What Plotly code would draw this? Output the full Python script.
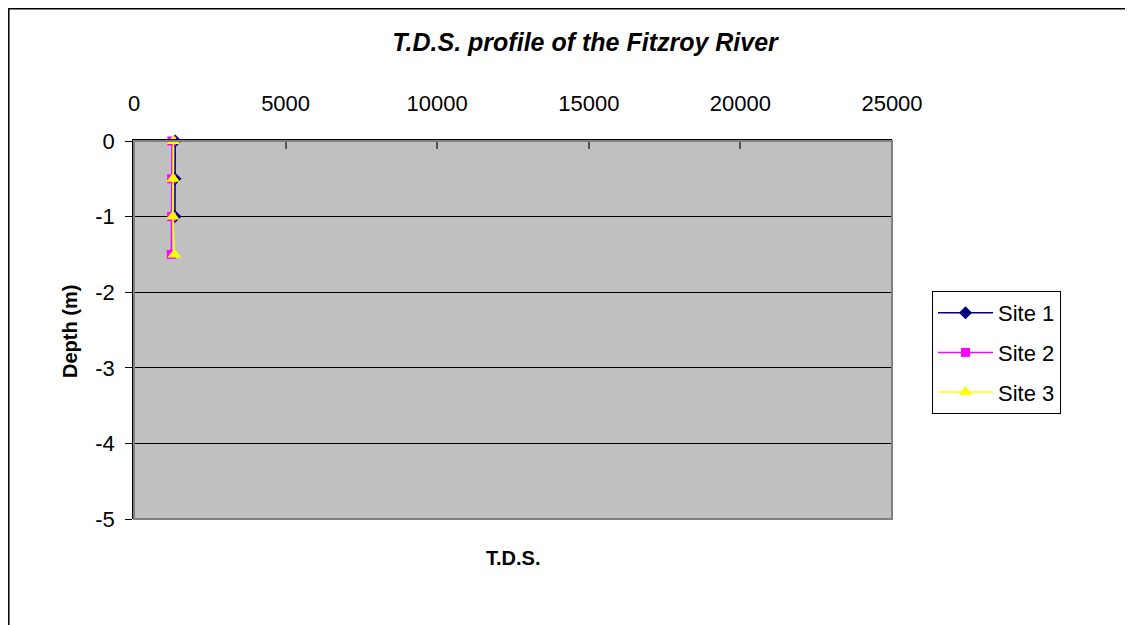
import plotly.graph_objects as go

depth_1 = [0, -0.5, -1]
tds_1 = [1360, 1350, 1350]
depth_2 = [0, -0.5, -1, -1.5]
tds_2 = [1250, 1240, 1240, 1230]
depth_3 = [0, -0.5, -1, -1.5]
tds_3 = [1300, 1290, 1280, 1330]

x_ticks = [0, 5000, 10000, 15000, 20000, 25000]
y_ticks = [0, -1, -2, -3, -4, -5]

OFF = 8  # page body margin
W, H = 1133, 625
# target positions in screenshot pixels
L, R, T, B = 134, 892, 141, 519
pw, ph = R - L, B - T
ml, mt = L - OFF, T - OFF
mr, mb = W - ml - pw, H - mt - ph


def px(x):
    return (x - L) / pw


def py(y):
    return (B - y) / ph


fig = go.Figure()
fig.add_trace(go.Scatter(x=tds_1, y=depth_1, name="Site 1", mode="lines+markers",
                         legendgroup="g1", cliponaxis=False,
                         line=dict(color="#000080", width=1.5),
                         marker=dict(symbol="diamond", size=10, color="#000080")))
fig.add_trace(go.Scatter(x=tds_2, y=depth_2, name="Site 2", mode="lines+markers",
                         legendgroup="g2", cliponaxis=False,
                         line=dict(color="#FF00FF", width=1.5),
                         marker=dict(symbol="square", size=9, color="#FF00FF")))
fig.add_trace(go.Scatter(x=tds_3, y=depth_3, name="Site 3", mode="lines+markers",
                         legendgroup="g3", cliponaxis=False,
                         line=dict(color="#FFFF00", width=1.5),
                         marker=dict(symbol="triangle-up", size=12, color="#FFFF00")))

font = dict(family="Liberation Sans, Arial, sans-serif", color="black")

fig.update_layout(
    width=W, height=H,
    margin=dict(l=ml, r=mr, t=mt, b=mb, pad=0),
    paper_bgcolor="white",
    plot_bgcolor="#C0C0C0",
    font=dict(size=22, **font),
    title=dict(text="<b><i>T.D.S. profile of the Fitzroy River</i></b>",
               x=(585 - OFF) / W, xanchor="center", y=1 - (42 - OFF) / H, yanchor="middle",
               font=dict(size=25, **font)),
    xaxis=dict(side="top", range=[0, 25000], tickvals=x_ticks,
               ticktext=[str(v) for v in x_ticks],
               showgrid=False, zeroline=False, showline=True, linecolor="black",
               linewidth=1.5, ticks="inside", ticklen=8, tickwidth=2, tickcolor="#555555",
               ticklabelstandoff=19,
               tickfont=dict(size=22, **font), mirror=False),
    yaxis=dict(range=[-5, 0], tickvals=y_ticks, ticktext=[str(v) for v in y_ticks],
               showgrid=True, gridcolor="black", gridwidth=1, zeroline=False,
               showline=True, linecolor="black", linewidth=1.5, ticks="outside",
               ticklen=7, tickcolor="black", tickfont=dict(size=22, **font),
               ticklabelstandoff=6),
    legend=dict(x=px(932), y=py(291), xanchor="left", yanchor="top",
                bordercolor="black", borderwidth=1, bgcolor="white",
                font=dict(size=22, **font), tracegroupgap=8, itemwidth=55),
    showlegend=True,
)

fig.add_annotation(text="<b>T.D.S.</b>", xref="paper", yref="paper",
                   x=px(513), y=py(558), xanchor="center", yanchor="middle",
                   showarrow=False, font=dict(size=20, **font))
fig.add_annotation(text="<b>Depth (m)</b>", xref="paper", yref="paper",
                   x=px(70), y=py(332), xanchor="center", yanchor="middle",
                   textangle=-90, showarrow=False, font=dict(size=20, **font))

# plot area border (right/bottom grey)
fig.add_shape(type="rect", xref="paper", yref="paper", x0=0, x1=1, y0=0, y1=1,
              line=dict(color="#808080", width=2), layer="above")
# chart area border
fig.add_shape(type="rect", xref="paper", yref="paper",
              x0=px(OFF + 0.8), x1=px(1130), y0=py(650), y1=py(OFF + 0.8),
              line=dict(color="black", width=1.5))

fig.write_html("out.html")
